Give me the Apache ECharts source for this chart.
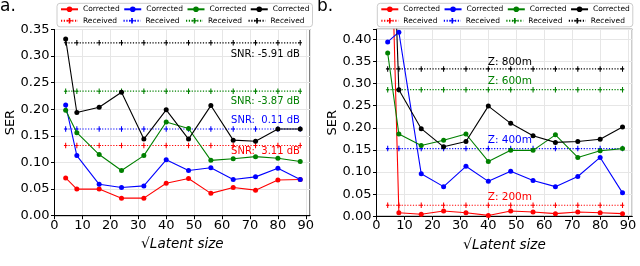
<!DOCTYPE html>
<html>
<head>
<meta charset="utf-8">
<script src="https://cdn.jsdelivr.net/npm/echarts@6/dist/echarts.min.js"></script>
<style>
html,body{margin:0;padding:0;background:#fff;}
#c{width:640px;height:266px;}
</style>
</head>
<body>
<div id="c"></div>
<script>
// ---------- data ----------
const latent = [4, 8, 16, 24, 32, 40, 48, 56, 64, 72, 80, 88];
const xTicks = [0, 10, 20, 30, 40, 50, 60, 70, 80, 90];

// panel a (SNR)
const aCorrRed   = [0.071, 0.050, 0.050, 0.033, 0.033, 0.061, 0.070, 0.042, 0.053, 0.048, 0.067, 0.068];
const aCorrBlue  = [0.208, 0.113, 0.059, 0.053, 0.056, 0.105, 0.085, 0.090, 0.068, 0.073, 0.089, 0.068];
const aCorrGreen = [0.198, 0.156, 0.115, 0.085, 0.113, 0.176, 0.164, 0.104, 0.107, 0.111, 0.108, 0.102];
const aCorrBlack = [0.332, 0.194, 0.204, 0.232, 0.144, 0.199, 0.144, 0.207, 0.142, 0.140, 0.163, 0.163];
const aRecvRed   = [0.132, 0.132, 0.132, 0.132, 0.132, 0.132, 0.132, 0.132, 0.132, 0.132, 0.132, 0.132];
const aRecvBlue  = [0.163, 0.163, 0.163, 0.163, 0.163, 0.163, 0.163, 0.163, 0.163, 0.163, 0.163, 0.163];
const aRecvGreen = [0.234, 0.234, 0.234, 0.234, 0.234, 0.234, 0.234, 0.234, 0.234, 0.234, 0.234, 0.234];
const aRecvBlack = [0.325, 0.325, 0.325, 0.325, 0.325, 0.325, 0.325, 0.325, 0.325, 0.325, 0.325, 0.325];
const aYTicks = [0.00, 0.05, 0.10, 0.15, 0.20, 0.25, 0.30, 0.35];
const aNotes = ['SNR: -5.91 dB', 'SNR: -3.87 dB', 'SNR:  0.11 dB', 'SNR:  3.11 dB'];

// panel b (depth)
const bCorrRed   = [0.95, 0.008, 0.0045, 0.012, 0.008, 0.002, 0.012, 0.0097, 0.006, 0.0097, 0.008, 0.006];
const bCorrBlue  = [0.394, 0.416, 0.096, 0.067, 0.113, 0.079, 0.102, 0.081, 0.067, 0.090, 0.133, 0.053];
const bCorrGreen = [0.369, 0.186, 0.160, 0.172, 0.186, 0.124, 0.149, 0.149, 0.184, 0.133, 0.148, 0.153];
const bCorrBlack = [1.00, 0.286, 0.198, 0.157, 0.169, 0.249, 0.210, 0.182, 0.167, 0.169, 0.174, 0.202];
const bRecvRed   = [0.025, 0.025, 0.025, 0.025, 0.025, 0.025, 0.025, 0.025, 0.025, 0.025, 0.025, 0.025];
const bRecvBlue  = [0.153, 0.153, 0.153, 0.153, 0.153, 0.153, 0.153, 0.153, 0.153, 0.153, 0.153, 0.153];
const bRecvGreen = [0.286, 0.286, 0.286, 0.286, 0.286, 0.286, 0.286, 0.286, 0.286, 0.286, 0.286, 0.286];
const bRecvBlack = [0.333, 0.333, 0.333, 0.333, 0.333, 0.333, 0.333, 0.333, 0.333, 0.333, 0.333, 0.333];
const bYTicks = [0.00, 0.05, 0.10, 0.15, 0.20, 0.25, 0.30, 0.35, 0.40];
const bNotes = ['Z: 800m', 'Z: 600m', 'Z: 400m', 'Z: 200m'];

const legendNames = ['Corrected', 'Received'];
const panelLabels = ['a.', 'b.'];
const yName = 'SER';

// ---------- styling ----------
const FONT = 'DejaVu Sans';
const COLORS = {r: '#ff0000', b: '#0000ff', g: '#008000', k: '#000000'};
const PLUS = 'path://M-0.6,-3H0.6V-0.6H2V0.6H0.6V3H-0.6V0.6H-2V-0.6H-0.6Z';

function pairs(ys) { return latent.map((x, i) => [x, ys[i]]); }

function corrSeries(name, ys, color, gi) {
  return {
    type: 'line', name: name, xAxisIndex: gi, yAxisIndex: gi,
    data: pairs(ys), symbol: 'circle', symbolSize: 5, showSymbol: true,
    lineStyle: {color: color, width: 1.1}, itemStyle: {color: color},
    animation: false, clip: true, z: 3
  };
}
function recvSeries(name, ys, color, gi) {
  return {
    type: 'line', name: name, xAxisIndex: gi, yAxisIndex: gi,
    data: pairs(ys), symbol: PLUS, symbolSize: [3.5, 5.5], showSymbol: true,
    lineStyle: {color: color, width: 1.2, type: [1.2, 1.6]}, itemStyle: {color: color},
    animation: false, clip: true, z: 2
  };
}

const grids = [
  {left: 54.5, top: 29.5, width: 255.5, height: 186.2},
  {left: 376.5, top: 29.3, width: 255.8, height: 187}
];
const yMax = [0.35, 0.4225];

function xAxis(gi) {
  return {
    type: 'value', gridIndex: gi, min: 0, max: 91.5, interval: 10,
    axisLine: {show: true, lineStyle: {color: '#000', width: 1}},
    axisTick: {show: true, length: 3.5, lineStyle: {color: '#000'}},
    axisLabel: {color: '#000', fontFamily: FONT, fontSize: 13, margin: 3,
      showMaxLabel: false,
      formatter: v => xTicks.indexOf(Math.round(v)) >= 0 && Math.abs(v - Math.round(v)) < 1e-6 ? String(Math.round(v)) : ''},
    splitLine: {show: true, lineStyle: {color: '#e6e6e6', width: 1}},
    name: '{s|√}{i|Latent size}', nameLocation: 'middle', nameGap: 22,
    nameTextStyle: {rich: {
      s: {fontFamily: FONT, fontSize: 14, color: '#000'},
      i: {fontFamily: FONT, fontSize: 13.5, fontStyle: 'italic', color: '#000'}
    }}
  };
}
function yAxis(gi, ticks) {
  return {
    type: 'value', gridIndex: gi, min: 0, max: yMax[gi], interval: 0.05,
    axisLine: {show: true, lineStyle: {color: '#000', width: 1}},
    axisTick: {show: true, length: 3.5, lineStyle: {color: '#000'}},
    axisLabel: {color: '#000', fontFamily: FONT, fontSize: 13, margin: 5,
      formatter: v => {
        const t = ticks.find(tt => Math.abs(tt - v) < 1e-6);
        return t === undefined ? '' : t.toFixed(2);
      }},
    splitLine: {show: true, lineStyle: {color: '#e6e6e6', width: 1}},
    name: yName, nameLocation: 'middle', nameGap: 36,
    nameTextStyle: {fontFamily: FONT, fontSize: 13, color: '#000'}
  };
}

function legendFor(gi, left) {
  const tags = ['r', 'b', 'g', 'k'];
  const data = [];
  legendNames.forEach(n => tags.forEach(t => data.push(n + '|' + t + '|' + gi)));
  return {
    data: data, left: left, top: 3.3, width: 252, orient: 'horizontal',
    itemWidth: 17, itemHeight: 7, itemGap: 3.5, padding: [2, 3, 2, 3],
    borderColor: '#cccccc', borderWidth: 1, borderRadius: 3, backgroundColor: '#fff',
    formatter: name => name.split('|')[0],
    textStyle: {fontFamily: FONT, fontSize: 7.5, color: '#000', width: 36, lineHeight: 8, overflow: 'none'},
    selectedMode: false
  };
}

const series = [];
[[0, [aCorrRed, aCorrBlue, aCorrGreen, aCorrBlack], [aRecvRed, aRecvBlue, aRecvGreen, aRecvBlack]],
 [1, [bCorrRed, bCorrBlue, bCorrGreen, bCorrBlack], [bRecvRed, bRecvBlue, bRecvGreen, bRecvBlack]]]
.forEach(([gi, corr, recv]) => {
  ['r', 'b', 'g', 'k'].forEach((t, i) => {
    series.push(corrSeries('Corrected|' + t + '|' + gi, corr[i], COLORS[t], gi));
    series.push(recvSeries('Received|' + t + '|' + gi, recv[i], COLORS[t], gi));
  });
});

const chart = echarts.init(document.getElementById('c'), null, {renderer: 'canvas'});
chart.setOption({
  backgroundColor: '#fff',
  animation: false,
  grid: grids.map(g => Object.assign({show: true, borderColor: '#000', borderWidth: 1, backgroundColor: 'transparent', containLabel: false}, g)),
  xAxis: [xAxis(0), xAxis(1)],
  yAxis: [yAxis(0, aYTicks), yAxis(1, bYTicks)],
  legend: [legendFor(0, 57), legendFor(1, 377.3)],
  series: series
});

// annotations anchored at data coordinates
const noteColors = [COLORS.k, COLORS.g, COLORS.b, COLORS.r];
const aAnchors = [[87.9, 0.3034], [87.9, 0.2156], [87.9, 0.180], [87.9, 0.1203]];
const bAnchors = [[47.7, 0.348], [47.7, 0.3045], [47.7, 0.1726], [47.7, 0.042]];
const graphics = [];
aNotes.forEach((txt, i) => {
  const p = chart.convertToPixel({gridIndex: 0}, aAnchors[i]);
  graphics.push({type: 'text', x: p[0], y: p[1], z: 10, silent: true,
    style: {text: txt, fill: noteColors[i], font: '10px "DejaVu Sans"', textAlign: 'right', textVerticalAlign: 'middle'}});
});
bNotes.forEach((txt, i) => {
  const p = chart.convertToPixel({gridIndex: 1}, bAnchors[i]);
  graphics.push({type: 'text', x: p[0], y: p[1], z: 10, silent: true,
    style: {text: txt, fill: noteColors[i], font: '10.5px "DejaVu Sans"', textAlign: 'center', textVerticalAlign: 'middle'}});
});
graphics.push({type: 'text', left: 0, top: -2, silent: true,
  style: {text: panelLabels[0], fill: '#000', font: '17px "DejaVu Sans"'}});
graphics.push({type: 'text', left: 317, top: -2, silent: true,
  style: {text: panelLabels[1], fill: '#000', font: '17px "DejaVu Sans"'}});
chart.setOption({graphic: graphics});
</script>
</body>
</html>
